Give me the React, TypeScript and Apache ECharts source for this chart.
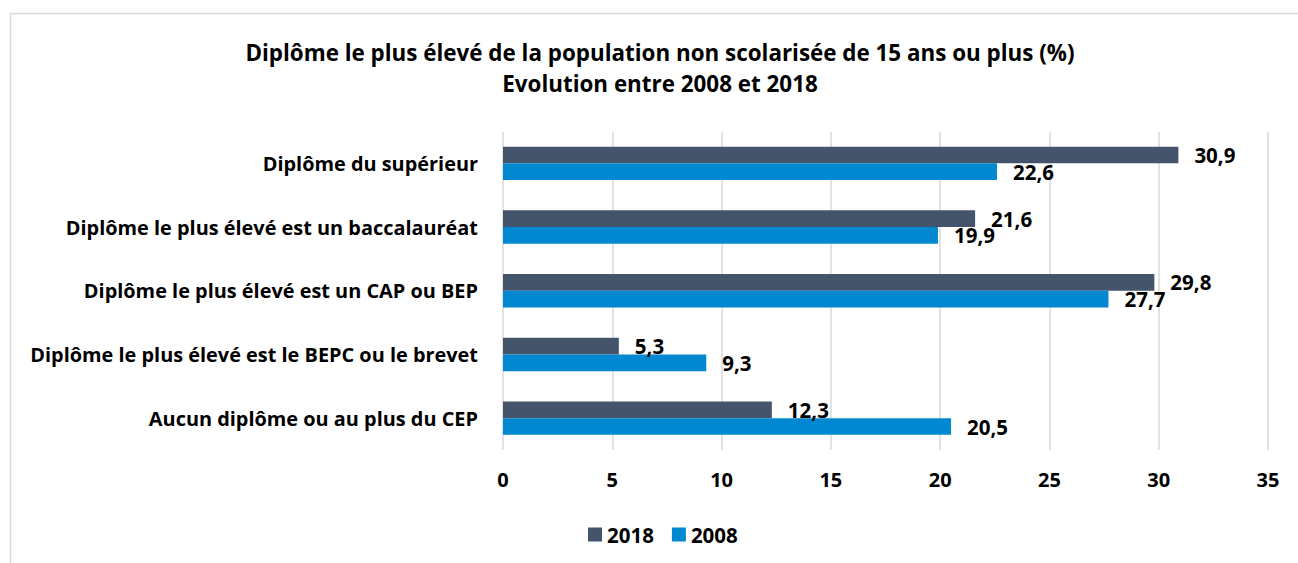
import React, { useEffect, useRef } from "react";
import * as echarts from "echarts";

const categories = [
  "Diplôme du supérieur",
  "Diplôme le plus élevé est un baccalauréat",
  "Diplôme le plus élevé est un CAP ou BEP",
  "Diplôme le plus élevé est le BEPC ou le brevet",
  "Aucun diplôme ou au plus du CEP",
];
const values2018 = [30.9, 21.6, 29.8, 5.3, 12.3];
const values2008 = [22.6, 19.9, 27.7, 9.3, 20.5];
const xTicks = [0, 5, 10, 15, 20, 25, 30, 35];

const FONT = "Open Sans";
const fmt = (v: number) => v.toFixed(1).replace(".", ",");

export default function App() {
  const ref = useRef<HTMLDivElement>(null);
  useEffect(() => {
    if (!ref.current) return;
    const chart = echarts.init(ref.current, null, { renderer: "svg" });
    const label = {
      show: true,
      position: "right",
      distance: 16,
      color: "#000",
      fontFamily: FONT,
      fontWeight: "bold",
      fontSize: 20.5,
      formatter: (p: any) => fmt(p.value),
    };
    chart.setOption({
      animation: false,
      backgroundColor: "#fff",
      textStyle: { fontFamily: FONT },
      graphic: [
        {
          type: "rect",
          shape: { x: 10.5, y: 13.5, width: 1300, height: 600 },
          style: { fill: "none", stroke: "#d9d9d9", lineWidth: 1.5 },
          silent: true,
        },
      ],
      title: {
        text: "Diplôme le plus élevé de la population non scolarisée de 15 ans ou plus (%)\nEvolution entre 2008 et 2018",
        left: 655,
        top: 31.5,
        textAlign: "center",
        textStyle: {
          fontFamily: FONT,
          fontWeight: "bold",
          fontSize: 22.4,
          lineHeight: 31,
          color: "#000",
        },
      },
      legend: {
        data: ["2018", "2008"],
        left: 583,
        top: 519,
        itemWidth: 14,
        itemHeight: 14,
        itemGap: 18,
        icon: "rect",
        textStyle: { fontFamily: FONT, fontWeight: "bold", fontSize: 20.5, color: "#000" },
      },
      grid: { left: 503, right: 30, top: 131.5, bottom: 113, containLabel: false },
      xAxis: {
        type: "value",
        min: xTicks[0],
        max: xTicks[xTicks.length - 1],
        interval: 5,
        axisLine: { show: false },
        axisTick: { show: false },
        splitLine: { show: true, lineStyle: { color: "#d9d9d9", width: 1.5 } },
        axisLabel: { margin: 19, color: "#000", fontFamily: FONT, fontWeight: "bold", fontSize: 20 },
      },
      yAxis: {
        type: "category",
        data: categories,
        inverse: true,
        axisLine: { show: false },
        axisTick: { show: false },
        axisLabel: { margin: 25, color: "#000", fontFamily: FONT, fontWeight: "bold", fontSize: 19.9 },
      },
      series: [
        {
          name: "2018",
          type: "bar",
          data: values2018,
          barWidth: 16.7,
          barGap: "0%",
          itemStyle: { color: "#44546a" },
          label,
        },
        {
          name: "2008",
          type: "bar",
          data: values2008,
          barWidth: 16.7,
          barGap: "0%",
          itemStyle: { color: "#0288d1" },
          label,
        },
      ],
    });
    return () => chart.dispose();
  }, []);
  return (
    <div
      ref={ref}
      style={{ position: "fixed", left: 0, top: 0, width: 1298, height: 563 }}
    />
  );
}
